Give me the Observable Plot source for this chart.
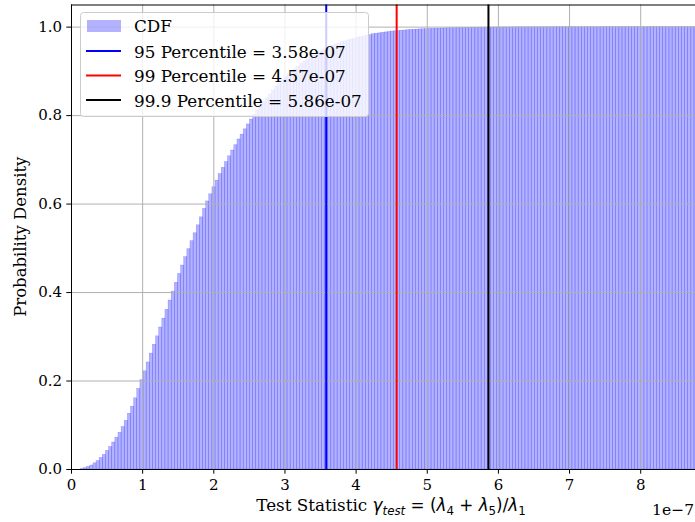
<!DOCTYPE html>
<html>
<head>
<meta charset="utf-8">
<script src="https://cdn.jsdelivr.net/npm/d3@7"></script>
<script src="https://cdn.jsdelivr.net/npm/@observablehq/plot@0.6"></script>
<style>
  html, body { margin: 0; padding: 0; background: #fff; }
</style>
</head>
<body>
<div id="chart"></div>
<script>
// ---- data (x in units of 1e-7) ----
const binStart = 0;
const binWidth = 0.044;
const cdfValues = [
  0, 0, 0, 0.001, 0.003, 0.006, 0.009, 0.014, 0.019, 0.026,
  0.033, 0.042, 0.051, 0.061, 0.072, 0.083, 0.096, 0.110, 0.126, 0.142,
  0.161, 0.182, 0.202, 0.222, 0.242, 0.262, 0.282, 0.301, 0.321, 0.341,
  0.361, 0.382, 0.402, 0.422, 0.442, 0.461, 0.480, 0.498, 0.516, 0.534,
  0.552, 0.570, 0.589, 0.606, 0.622, 0.638, 0.653, 0.668, 0.682, 0.695,
  0.708, 0.721, 0.733, 0.746, 0.757, 0.769, 0.780, 0.791, 0.801, 0.811,
  0.821, 0.830, 0.839, 0.848, 0.857, 0.865, 0.872, 0.880, 0.887, 0.893,
  0.899, 0.905, 0.911, 0.917, 0.922, 0.927, 0.932, 0.936, 0.941, 0.945,
  0.948, 0.952, 0.955, 0.958, 0.961, 0.963, 0.966, 0.968, 0.970, 0.972,
  0.974, 0.976, 0.978, 0.979, 0.981, 0.982, 0.984, 0.985, 0.986, 0.987,
  0.988, 0.989, 0.990, 0.9905, 0.991, 0.9917, 0.9923, 0.993, 0.9935, 0.994,
  0.9944, 0.9948, 0.9952, 0.9955, 0.9958, 0.9961, 0.9963, 0.9965, 0.9968, 0.997,
  0.9973, 0.9975, 0.9977, 0.9979, 0.998, 0.9982, 0.9983, 0.9985, 0.9986, 0.9987,
  0.9988, 0.9989, 0.999, 0.9991, 0.9992, 0.9992, 0.9993, 0.9993, 0.9994, 0.9994,
  0.9995, 0.9995, 0.9996, 0.9996, 0.9997, 0.9997, 0.9997, 0.9997, 0.9997, 0.9997,
  0.9997, 0.9997, 0.9997, 0.9997, 0.9998, 0.9998, 0.9998, 0.9998, 0.9998, 0.9998,
  0.9998, 0.9998, 0.9998, 0.9998, 0.9998, 0.9998, 0.9998, 0.9998, 0.9998, 0.9999,
  0.9999, 0.9999, 0.9999, 0.9999, 0.9999, 0.9999, 0.9999, 0.9999, 0.9999, 0.9999,
  0.9999, 0.9999, 0.9999, 0.9999, 1, 1, 1, 1, 1, 1,
  1, 1, 1, 1, 1, 1, 1, 1, 1, 1
];
const pctNames = ["95", "99", "99.9"];
const pctValues = [3.58, 4.57, 5.86];
const pctColors = ["#0000ff", "#ff0000", "#000000"];
const xTicks = [0, 1, 2, 3, 4, 5, 6, 7, 8];
const yTicks = [0, 0.2, 0.4, 0.6, 0.8, 1.0];
const xDomain = [0, 8.77];
const yDomain = [0, 1.05];

const bins = cdfValues.map((v, i) => ({
  x1: binStart + i * binWidth,
  x2: binStart + (i + 1) * binWidth,
  y: v
}));
const pcts = pctValues.map((v, i) => ({
  x: v, color: pctColors[i],
  label: `${pctNames[i]} Percentile = ${v.toFixed(2)}e-07`
}));

const W = 695, H = 522;
const mL = 71, mR = 0, mT = 4.5, mB = 53;
const serif = "'DejaVu Serif', serif";
const sans = "'DejaVu Sans', sans-serif";

const plot = Plot.plot({
  width: W, height: H,
  marginLeft: mL, marginRight: mR, marginTop: mT, marginBottom: mB,
  style: { fontFamily: serif, fontSize: "15px", color: "#000", background: "#fff", overflow: "visible" },
  x: { domain: xDomain, label: null },
  y: { domain: yDomain, label: null },
  marks: [
    Plot.rectY(bins, {
      x1: "x1", x2: "x2", y: "y",
      fill: "#0000ff", fillOpacity: 0.3,
      stroke: "#0000ff", strokeOpacity: 0.3, strokeWidth: 0.5,
      clip: true
    }),
    Plot.gridX(xTicks, { stroke: "#b0b0b0", strokeOpacity: 1, strokeWidth: 1 }),
    Plot.gridY(yTicks, { stroke: "#b0b0b0", strokeOpacity: 1, strokeWidth: 1 }),
    Plot.ruleX(pcts, { x: "x", stroke: "color", strokeWidth: 2 }),
    Plot.ruleY([yDomain[1]], { stroke: "#000", strokeWidth: 1 }),
    Plot.ruleY([yDomain[0]], { stroke: "#000", strokeWidth: 1 }),
    Plot.ruleX([xDomain[0]], { stroke: "#000", strokeWidth: 1 }),
    Plot.axisX({
      ticks: xTicks, tickFormat: d => String(d), tickSize: 4.7, tickPadding: 5.5,
      fontSize: 15, label: null
    }),
    Plot.axisY({
      ticks: yTicks, tickFormat: d => d.toFixed(1), tickSize: 4.7, tickPadding: 4.7,
      fontSize: 15, label: null
    })
  ]
});

document.getElementById("chart").appendChild(plot);

// ---- annotations (labels, offset text, legend) ----
const svg = d3.select(plot);

// y label
svg.append("text")
  .attr("transform", `translate(26,${(mT + (H - mB)) / 2}) rotate(-90)`)
  .attr("text-anchor", "middle")
  .attr("font-family", serif).attr("font-size", 16.5)
  .attr("fill", "#000")
  .text("Probability Density");

// x label with math
const xl = svg.append("text")
  .attr("x", 391).attr("y", 511)
  .attr("text-anchor", "middle")
  .attr("font-family", serif).attr("font-size", 16.8)
  .attr("fill", "#000");
const parts = [
  { t: "Test Statistic ", f: serif },
  { t: "γ", f: sans, it: true },
  { t: "test", f: sans, it: true, sub: true },
  { t: " = (", f: sans },
  { t: "λ", f: sans, it: true },
  { t: "4", f: sans, sub: true },
  { t: " + ", f: sans },
  { t: "λ", f: sans, it: true },
  { t: "5", f: sans, sub: true },
  { t: ")/", f: sans },
  { t: "λ", f: sans, it: true },
  { t: "1", f: sans, sub: true }
];
let wasSub = false;
parts.forEach(p => {
  const ts = xl.append("tspan").attr("font-family", p.f).text(p.t);
  if (p.it) ts.attr("font-style", "italic");
  if (p.sub) { ts.attr("font-size", 11.8); if (!wasSub) ts.attr("dy", 3.6); }
  else if (wasSub) ts.attr("dy", -3.6);
  wasSub = !!p.sub;
});

// offset text
svg.append("text")
  .attr("x", 694).attr("y", 515)
  .attr("text-anchor", "end")
  .attr("font-family", serif).attr("font-size", 15.5)
  .attr("fill", "#000")
  .text("1e\u22127");

// legend
const lg = svg.append("g").attr("text-anchor", "start");
lg.append("rect")
  .attr("x", 80.5).attr("y", 12.5).attr("width", 288).attr("height", 104)
  .attr("rx", 3).attr("fill", "#fff").attr("fill-opacity", 0.8)
  .attr("stroke", "#cccccc").attr("stroke-width", 1);
lg.append("rect")
  .attr("x", 87).attr("y", 20).attr("width", 34).attr("height", 12)
  .attr("fill", "#0000ff").attr("fill-opacity", 0.3);
lg.append("text").attr("x", 134).attr("y", 32).attr("text-anchor", "start")
  .attr("font-family", serif).attr("font-size", 16.8).attr("fill", "#000").text("CDF");
pcts.forEach((p, i) => {
  const yy = 51 + i * 24.5;
  lg.append("line").attr("x1", 86).attr("x2", 121).attr("y1", yy).attr("y2", yy)
    .attr("stroke", p.color).attr("stroke-width", 2);
  lg.append("text").attr("x", 134).attr("y", yy + 6.5).attr("text-anchor", "start")
    .attr("font-family", serif).attr("font-size", 16.8).attr("fill", "#000").text(p.label);
});
</script>
</body>
</html>
